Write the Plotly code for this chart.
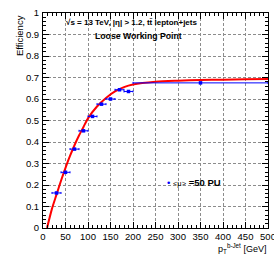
import plotly.graph_objects as go

# measured efficiency points (bin centres, half-widths, values)
pt_centres = [30, 50, 70, 90, 110, 130, 150, 170, 190, 350]
pt_halfwidth = [10, 10, 10, 10, 10, 10, 10, 10, 10, 150]
efficiency = [0.163, 0.259, 0.367, 0.452, 0.519, 0.576, 0.600, 0.643, 0.635, 0.675]

# fitted curve
fit_pt = [9, 20, 30, 40, 50, 60, 70, 80, 90, 100, 120, 140, 160, 180, 200, 250, 300, 350, 400, 450, 500]
fit_eff = [0.0, 0.09, 0.155, 0.22, 0.28, 0.335, 0.385, 0.43, 0.47, 0.51, 0.565, 0.605, 0.635,
           0.655, 0.667, 0.68, 0.685, 0.688, 0.69, 0.692, 0.693]

x_ticks = [0, 50, 100, 150, 200, 250, 300, 350, 400, 450, 500]
y_ticks = [0, 0.1, 0.2, 0.3, 0.4, 0.5, 0.6, 0.7, 0.8, 0.9, 1]
y_tick_text = ["0", "0.1", "0.2", "0.3", "0.4", "0.5", "0.6", "0.7", "0.8", "0.9", "1"]

FONT = "Liberation Sans, Arial, Helvetica, sans-serif"

fig = go.Figure()
fig.add_trace(go.Scatter(
    x=fit_pt, y=fit_eff, mode="lines",
    line=dict(color="#ff0000", width=2, shape="spline", smoothing=0.8),
    showlegend=False, hoverinfo="skip"))
fig.add_trace(go.Scatter(
    x=pt_centres, y=efficiency, mode="markers",
    marker=dict(color="#0000ff", size=3.5, symbol="square"),
    error_x=dict(type="data", array=pt_halfwidth, color="#0000ff", thickness=1, width=1),
    showlegend=False))

axis_common = dict(
    showline=True, linecolor="black", linewidth=1, mirror="allticks",
    ticks="inside", ticklen=6, tickwidth=1, tickcolor="black",
    showgrid=True, gridcolor="#8c8c8c", gridwidth=1, griddash="3px,2px",
    zeroline=False, automargin=False, ticklabeloverflow="allow",
    tickfont=dict(family=FONT, size=9.5, color="black"),
)

fig.update_xaxes(range=[0, 500], tickvals=x_ticks, ticktext=[str(v) for v in x_ticks],
                 minor=dict(ticks="inside", ticklen=3, dtick=10, tick0=0, tickcolor="black",
                            showgrid=False),
                 ticklabelstandoff=0, **axis_common)
fig.update_yaxes(range=[0, 1], tickvals=y_ticks, ticktext=y_tick_text,
                 minor=dict(ticks="inside", ticklen=3, dtick=0.02, tick0=0, tickcolor="black",
                            showgrid=False),
                 ticklabelstandoff=1, **axis_common)

annotations = [
    dict(text="<b>√s = 13 TeV, |η| > 1.2, tt̄ lepton+jets</b>", x=46, y=0.956,
         xref="x", yref="y", xanchor="left", yanchor="middle", showarrow=False,
         font=dict(family=FONT, size=8, color="black")),
    dict(text="<b>Loose Working Point</b>", x=110, y=0.891,
         xref="x", yref="y", xanchor="left", yanchor="middle", showarrow=False,
         font=dict(family=FONT, size=8.7, color="black")),
    dict(text="<span style='color:#0000ff'>•</span> <span style='font-size:7.5px'>&lt;μ&gt;</span> <b>=50 PU</b>",
         x=272, y=0.21, xref="x", yref="y", xanchor="left", yanchor="middle", showarrow=False,
         font=dict(family=FONT, size=9.5, color="black")),
    dict(text="Efficiency", textangle=-90, x=-0.104, y=1.0, xref="paper", yref="paper",
         xanchor="center", yanchor="top", showarrow=False,
         font=dict(family=FONT, size=9.5, color="black")),
    dict(text="p<sub>T</sub><sup>b-Jet</sup> [GeV]", x=1.0, y=0.0, xref="paper", yref="paper",
         xanchor="right", yanchor="top", yshift=-12, showarrow=False,
         font=dict(family=FONT, size=9, color="black")),
]

fig.update_layout(
    width=274, height=263,
    margin=dict(l=43, r=6, t=13, b=35),
    paper_bgcolor="white", plot_bgcolor="white",
    annotations=annotations,
    font=dict(family=FONT),
)

fig.write_html("out.html", config={"displayModeBar": False},
               post_script="document.body.style.margin='0';document.body.style.overflow='hidden';")
